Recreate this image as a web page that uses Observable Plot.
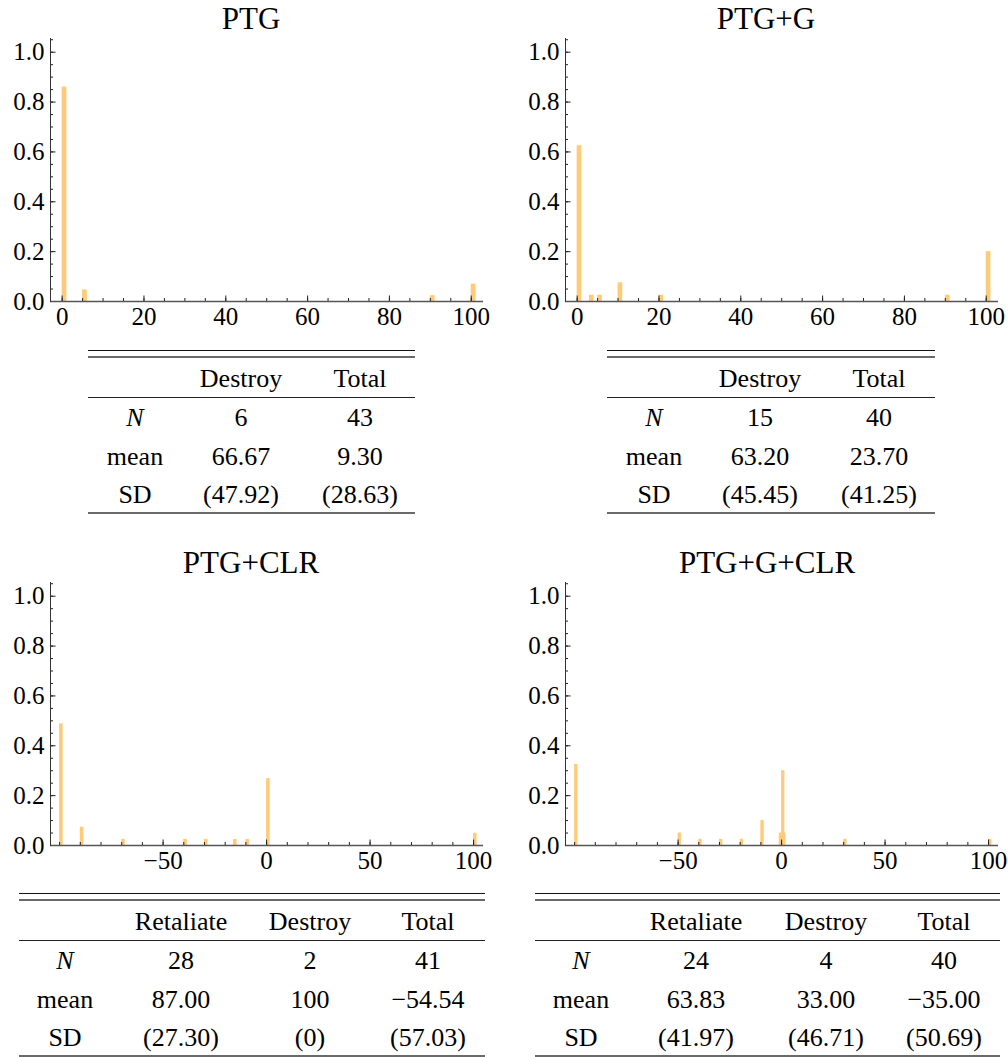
<!DOCTYPE html>
<html><head><meta charset="utf-8">
<script src="https://cdn.jsdelivr.net/npm/d3@7"></script>
<script src="https://cdn.jsdelivr.net/npm/@observablehq/plot@0.6"></script>
<style>
body{margin:0;background:#fff;}
#root{position:relative;width:1008px;height:1057px;overflow:hidden;font-family:"Liberation Serif","Times New Roman",serif;color:#000;}
.title{position:absolute;font-family:"Liberation Serif",serif;font-size:31px;line-height:1.2;transform:translateX(-50%);white-space:nowrap;}
.cell{position:absolute;font-family:"Liberation Serif",serif;font-size:26px;line-height:1;transform:translate(-50%,-50%);white-space:nowrap;}
.rule{position:absolute;}
.panel{position:absolute;}
.panel svg{max-width:none !important;}
</style></head><body><div id="root"></div>
<script>
// ---------- data ----------
const titles = ["PTG", "PTG+G", "PTG+CLR", "PTG+G+CLR"];

// histogram bins: start value of each bin and its count; bar height = count / N
const ptgValues = [0, 5, 90, 100];
const ptgCounts = [37, 2, 1, 3];
const ptgTotal = 43;

const ptgGValues = [0, 3, 5, 10, 20, 90, 100];
const ptgGCounts = [25, 1, 1, 3, 1, 1, 8];
const ptgGTotal = 40;

const ptgClrValues = [-100, -90, -70, -40, -30, -16, -10, 0, 100];
const ptgClrCounts = [20, 3, 1, 1, 1, 1, 1, 11, 2];
const ptgClrTotal = 41;

const ptgGClrValues = [-100, -50, -40, -30, -20, -10, 0, 30, 100];
const ptgGClrCounts = [13, 2, 1, 1, 1, 4, 12, 1, 1];
const ptgGClrWideValues = [0];
const ptgGClrWideCounts = [2];
const ptgGClrTotal = 40;

const topXTicks = [0, 20, 40, 60, 80, 100];
const bottomXTicks = [-50, 0, 50, 100];
const yTicks = [0, 0.2, 0.4, 0.6, 0.8, 1.0];

// tables
const rowLabels = ["N", "mean", "SD"];
const ptgCols = ["Destroy", "Total"];
const ptgTabN = ["6", "43"];
const ptgTabMean = ["66.67", "9.30"];
const ptgTabSD = ["(47.92)", "(28.63)"];

const ptgGCols = ["Destroy", "Total"];
const ptgGTabN = ["15", "40"];
const ptgGTabMean = ["63.20", "23.70"];
const ptgGTabSD = ["(45.45)", "(41.25)"];

const ptgClrCols = ["Retaliate", "Destroy", "Total"];
const ptgClrTabN = ["28", "2", "41"];
const ptgClrTabMean = ["87.00", "100", "\u221254.54"];
const ptgClrTabSD = ["(27.30)", "(0)", "(57.03)"];

const ptgGClrCols = ["Retaliate", "Destroy", "Total"];
const ptgGClrTabN = ["24", "4", "40"];
const ptgGClrTabMean = ["63.83", "33.00", "\u221235.00"];
const ptgGClrTabSD = ["(41.97)", "(46.71)", "(50.69)"];

// ---------- drawing ----------
const root = document.getElementById("root");
const BAR = "#FFCB78";
const FONT = '"Liberation Serif","Times New Roman",serif';
const W = 433, H = 263, mL = 50, mR = 22, mT = 10, mB = 40;
const fmtX = d => d < 0 ? "\u2212" + Math.abs(d) : String(d);
const fmtY = d3.format(".1f");

function hist({values, counts, total, wideValues = [], wideCounts = [], domain, majors, minorStep, minorFrom, barW, left, top}) {
  const bars = values.map((v, i) => ({x1: v, x2: v + barW, h: counts[i] / total}));
  const wide = wideValues.map((v, i) => ({x1: v - barW * 0.7, x2: v + barW * 1.3, h: wideCounts[i] / total}));
  const xMinor = d3.range(minorFrom, 100.01, minorStep);
  const yMinor = d3.range(0, 1.0501, 0.05);
  const chart = Plot.plot({
    width: mL + W + mR, height: mT + H + mB,
    marginLeft: mL, marginRight: mR, marginTop: mT, marginBottom: mB,
    x: {domain, ticks: majors, tickFormat: fmtX, label: null},
    y: {domain: [0, 1.055], ticks: yTicks, tickFormat: fmtY, label: null},
    style: {fontFamily: FONT, fontSize: "25px", color: "#000", background: "transparent", overflow: "visible", maxWidth: "none"},
    marks: [
      Plot.rect(wide, {x1: "x1", x2: "x2", y1: 0, y2: "h", fill: BAR}),
      Plot.rect(bars, {x1: "x1", x2: "x2", y1: 0, y2: "h", fill: BAR}),
      Plot.tickX(xMinor, {x: d => d, stroke: "#222", strokeWidth: 1, insetTop: H - 3}),
      Plot.tickX(majors, {x: d => d, stroke: "#222", strokeWidth: 1, insetTop: H - 5.5}),
      Plot.tickY(yMinor, {y: d => d, stroke: "#222", strokeWidth: 1, insetRight: W - 3}),
      Plot.tickY(yTicks, {y: d => d, stroke: "#222", strokeWidth: 1, insetRight: W - 5.5}),
      Plot.ruleY([0], {stroke: "#555", strokeWidth: 1.3}),
      Plot.frame({anchor: "left", stroke: "#333", strokeWidth: 1}),
      Plot.axisX({ticks: majors, tickSize: 0, tickPadding: 6, tickFormat: fmtX, label: null, fontSize: 25, fontFamily: FONT, fill: "#000"}),
      Plot.axisY({ticks: yTicks, tickSize: 0, tickPadding: 6, tickFormat: fmtY, label: null, fontSize: 25, fontFamily: FONT, fill: "#000"})
    ]
  });
  const wrap = document.createElement("div");
  wrap.className = "panel";
  wrap.style.left = left + "px";
  wrap.style.top = top + "px";
  wrap.style.width = (mL + W + mR) + "px";
  wrap.appendChild(chart);
  root.appendChild(wrap);
}

function title(text, cx, top) {
  const d = document.createElement("div");
  d.className = "title";
  d.textContent = text;
  d.style.left = cx + "px";
  d.style.top = top + "px";
  root.appendChild(d);
}

function rule(x, w, y, thick, color) {
  const d = document.createElement("div");
  d.className = "rule";
  d.style.left = x + "px";
  d.style.width = w + "px";
  d.style.top = (y - thick / 2) + "px";
  d.style.height = thick + "px";
  d.style.background = color;
  root.appendChild(d);
}

function cell(text, cx, cy, italic) {
  const d = document.createElement("div");
  d.className = "cell";
  d.textContent = text;
  d.style.left = cx + "px";
  d.style.top = cy + "px";
  if (italic) d.style.fontStyle = "italic";
  root.appendChild(d);
}

function table({left, width, labelX, colX, cols, nRow, meanRow, sdRow, topY}) {
  rule(left, width, topY, 1.2, "#111");
  rule(left, width, topY + 6.3, 2, "#6a6a6a");
  rule(left, width, topY + 47, 1.2, "#222");
  rule(left, width, topY + 162, 2, "#6a6a6a");
  const rowsY = [topY + 67, topY + 106, topY + 144];
  cols.forEach((c, i) => cell(c, left + colX[i], topY + 28));
  const rows = [nRow, meanRow, sdRow];
  rowLabels.forEach((lab, r) => {
    cell(lab, left + labelX, rowsY[r], r === 0);
    rows[r].forEach((v, i) => cell(v, left + colX[i], rowsY[r]));
  });
}

// top row
hist({values: ptgValues, counts: ptgCounts, total: ptgTotal, domain: [-2.85, 103], majors: topXTicks, minorStep: 5, minorFrom: 0, barW: 1.15, left: 0, top: 28});
hist({values: ptgGValues, counts: ptgGCounts, total: ptgGTotal, domain: [-2.85, 103], majors: topXTicks, minorStep: 5, minorFrom: 0, barW: 1.15, left: 515, top: 28});
// bottom row
hist({values: ptgClrValues, counts: ptgClrCounts, total: ptgClrTotal, domain: [-104.4, 104.8], majors: bottomXTicks, minorStep: 10, minorFrom: -100, barW: 1.7, left: 0, top: 572});
hist({values: ptgGClrValues, counts: ptgGClrCounts, total: ptgGClrTotal, wideValues: ptgGClrWideValues, wideCounts: ptgGClrWideCounts, domain: [-104.4, 104.8], majors: bottomXTicks, minorStep: 10, minorFrom: -100, barW: 1.6, left: 515, top: 572});

title(titles[0], 251, 0);
title(titles[1], 766, 0);
title(titles[2], 251, 544);
title(titles[3], 767, 544);

table({left: 88, width: 327, labelX: 47, colX: [153, 272], cols: ptgCols, nRow: ptgTabN, meanRow: ptgTabMean, sdRow: ptgTabSD, topY: 350.5});
table({left: 607, width: 328, labelX: 47, colX: [153, 272], cols: ptgGCols, nRow: ptgGTabN, meanRow: ptgGTabMean, sdRow: ptgGTabSD, topY: 350.5});
table({left: 19, width: 466, labelX: 46, colX: [162, 291, 409], cols: ptgClrCols, nRow: ptgClrTabN, meanRow: ptgClrTabMean, sdRow: ptgClrTabSD, topY: 893.5});
table({left: 535, width: 465, labelX: 46, colX: [161, 291, 409], cols: ptgGClrCols, nRow: ptgGClrTabN, meanRow: ptgGClrTabMean, sdRow: ptgGClrTabSD, topY: 893.5});
</script></body></html>
